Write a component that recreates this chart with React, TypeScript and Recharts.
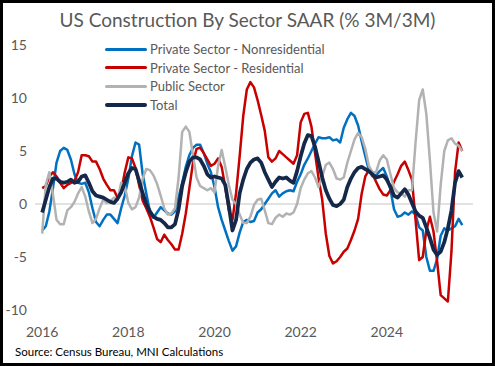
import { LineChart, Line, XAxis, YAxis, CartesianGrid } from 'recharts';

// monthly, Jan 2016 onwards (% 3M/3M SAAR)
const nonResidential = [
  -2.5, -2.1, -0.7, 1.5, 3.9, 5.0, 5.3, 5.1, 4.2, 2.8, 2.0, 1.9,
  2.0, 1.1, -0.4, -1.7, -2.1, -1.5, -1.0, -1.0, -1.4, -1.8, -0.4, 0.8,
  2.4, 4.5, 5.8, 5.6, 2.8, 1.0, -0.7, -1.3, -0.8, -0.3, -0.6, -0.9,
  -1.0, -0.7, 0.6, 2.0, 3.5, 4.6, 5.3, 5.6, 5.6, 4.8, 3.8, 3.0,
  1.6, -0.3, -1.5, -2.5, -3.5, -4.4, -4.0, -2.7, -1.7, -1.5, -1.7, -1.6,
  -0.8, -0.5, 0.0, 0.5, 1.0, 1.3, 0.7, 1.0, 1.2, 1.3, 1.2, 2.1,
  2.8, 3.7, 4.3, 5.0, 5.7, 6.3, 6.2, 6.2, 6.3, 6.0, 6.1, 5.8,
  7.2, 8.0, 8.6, 8.3, 7.4, 5.9, 4.5, 3.2, 2.6, 2.7, 3.1, 3.4,
  2.6, 1.4, -0.5, -1.2, -1.1, -0.8, -1.0, -0.7, -1.0, -2.2, -2.5, -5.0,
  -6.3, -6.3, -5.2, -3.0, -2.3, -2.5, -2.3, -2.1, -1.4, -2.0,
];

const residential = [
  1.5, 1.7, 2.6, 3.0, 2.6, 2.0, 1.5, 1.8, 2.0, 2.2, 3.0, 4.6,
  4.6, 4.5, 4.0, 4.0, 3.3, 2.4, 1.8, 1.3, 1.3, 0.6, 1.2, 3.0,
  4.4, 4.3, 3.4, 1.8, 0.3, -0.4, -1.2, -2.2, -3.3, -3.6, -2.9, -3.4,
  -3.8, -4.3, -4.3, -2.8, -0.9, 1.5, 3.9, 5.2, 5.3, 4.8, 4.2, 3.6,
  3.8, 4.3, 3.5, 1.6, -0.6, -1.5, 1.0, 4.5, 8.3, 10.8, 11.5, 11.0,
  9.8, 8.4, 6.9, 4.4, 4.0, 4.3, 5.0, 4.7, 4.4, 4.1, 3.8, 4.6,
  7.7, 8.5, 8.6, 7.3, 4.8, 2.4, 0.4, -2.8, -4.9, -5.6, -5.4, -5.0,
  -4.5, -4.2, -3.4, -2.5, -1.4, 1.0, 2.6, 3.2, 2.8, 2.1, 1.4, 0.9,
  0.8, 1.3, 2.1, 2.8, 3.6, 4.0, 3.2, 2.3, -1.5, -5.3, -5.0, -2.5,
  -1.2, -2.6, -5.4, -8.6, -8.9, -9.2, -4.5, 3.0, 5.8, 5.0,
];

const publicSector = [
  -2.8, 1.8, 3.0, 0.9, -1.5, -1.9, -1.9, -0.6, -0.3, 0.2, 1.0, 1.6,
  0.7, -0.7, -1.8, -1.4, -0.4, 0.4, 0.1, 0.3, 0.6, 0.4, 2.0, 1.7,
  0.1, -0.5, -0.3, 0.6, 2.4, 3.3, 3.2, 2.7, 1.9, 0.8, -0.4, -1.0,
  -0.9, -0.4, 2.5, 6.8, 7.3, 6.8, 4.6, 2.5, 1.7, 1.5, 1.3, 1.5,
  1.1, 3.6, 5.1, 3.5, 1.8, 0.4, 0.0, -1.0, -1.8, -1.8, -1.2, -0.1,
  0.4, 0.5, -0.6, -1.8, -1.9, -1.3, -1.0, -1.2, -0.9, -1.0, -0.8, 0.0,
  1.5, 2.3, 2.9, 3.1, 2.5, 1.6, 2.6, 3.7, 3.9, 3.3, 2.4, 2.3,
  2.5, 3.9, 5.0, 6.1, 6.7, 6.3, 5.2, 3.6, 3.0, 3.0, 4.1, 4.6,
  4.2, 2.8, 1.5, 1.1, 1.0, 0.7, 1.3, 1.3, 5.8, 9.8, 10.8, 8.5,
  4.1, -0.8, -2.6, 1.8, 5.0, 6.0, 6.2, 5.7, 5.5, 5.0,
];

const total = [
  -0.8, 0.4, 1.6, 2.4, 2.4, 2.1, 2.0, 2.1, 2.3, 2.0, 2.1, 2.6,
  2.7, 2.0, 1.2, 0.8, 0.7, 0.6, 0.4, 0.2, 0.1, 0.5, 1.1, 2.0,
  2.9, 3.4, 3.3, 2.2, 1.0, 0.0, -0.7, -1.2, -1.4, -1.5, -1.8, -2.2,
  -2.2, -1.9, -0.5, 1.7, 3.0, 4.0, 4.4, 4.4, 4.2, 3.6, 2.8, 2.5,
  2.6, 2.5, 2.4, 1.8, -0.2, -2.5, -1.5, 1.0, 2.3, 3.3, 3.9, 4.2,
  4.3, 3.9, 3.0, 2.3, 1.6, 2.1, 2.5, 2.4, 2.5, 2.2, 2.0, 3.1,
  4.5, 5.7, 6.5, 6.4, 5.4, 4.0, 2.5, 1.3, 0.5, -0.1, -0.2, 0.0,
  0.4, 1.6, 2.4, 3.0, 3.4, 3.5, 3.3, 3.1, 2.8, 2.5, 2.6, 2.7,
  2.3, 1.6, 0.8, 0.6, 1.0, 1.4, 0.9, 0.1, -0.7, -1.1, -1.3, -2.2,
  -3.2, -4.3, -4.8, -4.5, -3.6, -2.3, -0.6, 2.0, 3.1, 2.5,
];

const yearTicks = [0, 24, 48, 72, 96];
const yearLabels = ['2016', '2018', '2020', '2022', '2024'];
const yTicks = [-10, -5, 0, 5, 10, 15];

const series = [
  { key: 'nonres', name: 'Private Sector - Nonresidential', color: '#0070C0', width: 2.5 },
  { key: 'res', name: 'Private Sector - Residential', color: '#C80000', width: 2.5 },
  { key: 'pub', name: 'Public Sector', color: '#B2B2B2', width: 2.5 },
  { key: 'total', name: 'Total', color: '#15284A', width: 3.75 },
];

const data = nonResidential.map((v, i) => ({
  i,
  nonres: v,
  res: residential[i],
  pub: publicSector[i],
  total: total[i],
}));

const FONT = 'Lato, "Open Sans", sans-serif';

export default function App() {
  return (
    <div style={{ position: 'absolute', left: 0, top: 0, width: 495, height: 366, background: '#fff', fontFamily: FONT }}>
      <div style={{ position: 'absolute', top: 8, left: 0, width: 495, textAlign: 'center', fontSize: 19, color: '#595959' }}>
        US Construction By Sector SAAR (% 3M/3M)
      </div>
      <LineChart width={495} height={366} data={data} margin={{ top: 45, right: 22, bottom: 26, left: 0 }}>
        <CartesianGrid vertical={false} horizontalValues={[0]} stroke="#D9D9D9" strokeWidth={1.5} />
        <XAxis
          type="number"
          dataKey="i"
          domain={[-2, 120]}
          ticks={yearTicks}
          tickFormatter={(v) => yearLabels[yearTicks.indexOf(v)] ?? ''}
          axisLine={false}
          tickLine={false}
          tickSize={0}
          tickMargin={17}
          height={30}
          tick={{ fill: '#595959', fontSize: 14, fontFamily: FONT }}
        />
        <YAxis
          domain={[-10, 15]}
          ticks={yTicks}
          axisLine={false}
          tickLine={false}
          tickSize={0}
          tickMargin={8}
          width={35}
          tick={{ fill: '#595959', fontSize: 14, fontFamily: FONT }}
        />
        {series.map((s) => (
          <Line
            key={s.key}
            type="linear"
            dataKey={s.key}
            name={s.name}
            stroke={s.color}
            strokeWidth={s.width}
            strokeLinejoin="round"
            dot={false}
            isAnimationActive={false}
          />
        ))}
      </LineChart>
      <div style={{ position: 'absolute', left: 105, top: 40 }}>
        {series.map((s) => (
          <div key={s.key} style={{ display: 'flex', alignItems: 'center', height: 18.5 }}>
            <div style={{ width: 42, height: s.width === 2.5 ? 3 : 4, background: s.color, borderRadius: 2, marginRight: 3 }} />
            <span style={{ fontSize: 13, color: '#595959', whiteSpace: 'nowrap' }}>{s.name}</span>
          </div>
        ))}
      </div>
      <div style={{ position: 'absolute', left: 15, top: 345, fontSize: 11.5, color: '#000', whiteSpace: 'nowrap' }}>
        Source: Census Bureau, MNI Calculations
      </div>
      <div style={{ position: 'absolute', inset: 0, border: '3px solid #000', pointerEvents: 'none' }} />
    </div>
  );
}
